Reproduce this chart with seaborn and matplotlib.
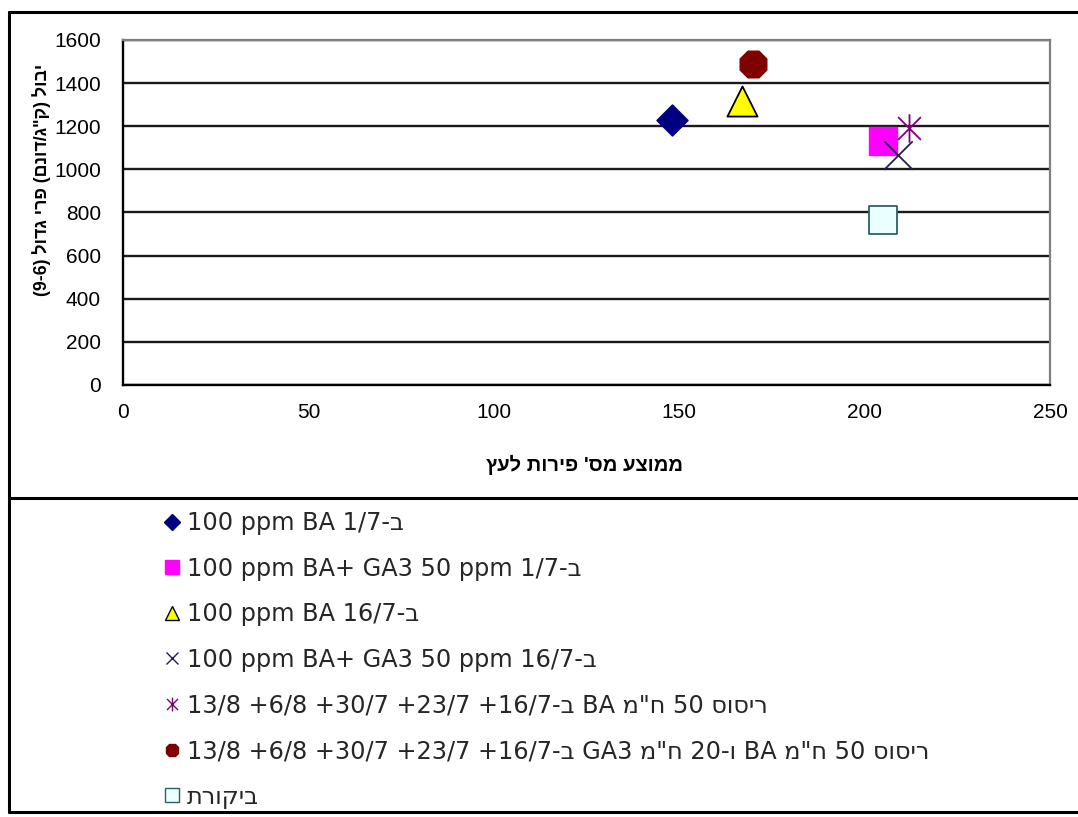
import matplotlib
matplotlib.use("Agg")
import matplotlib.pyplot as plt
from matplotlib.lines import Line2D
from matplotlib.path import Path
import seaborn as sns
import pandas as pd

# Treatments (strings written in display order, left to right)
treatments = [
    "100 ppm BA 1/7-ב",
    "100 ppm BA+ GA3 50 ppm 1/7-ב",
    "100 ppm BA 16/7-ב",
    "100 ppm BA+ GA3 50 ppm 16/7-ב",
    "13/8 +6/8 +30/7 +23/7 +16/7-ב BA מ\"ח 50 סוסיר",
    "13/8 +6/8 +30/7 +23/7 +16/7-ב GA3 מ\"ח 20-ו BA מ\"ח 50 סוסיר",
    "תרוקיב",
]
avg_fruits_per_tree = [148, 205, 167, 209, 212, 170, 205]
large_fruit_yield = [1230, 1130, 1315, 1065, 1190, 1490, 765]

x_ticks = [0, 50, 100, 150, 200, 250]
y_ticks = [0, 200, 400, 600, 800, 1000, 1200, 1400, 1600]
x_label = "ץעל תוריפ 'סמ עצוממ"
y_label = "(9-6) לודג ירפ (םנוד/ג\"ק) לובי"

df = pd.DataFrame({
    "treatment": treatments,
    "fruits": avg_fruits_per_tree,
    "yield": large_fruit_yield,
})

sns.set_theme(style="white")
plt.rcParams["font.family"] = ["Liberation Sans", "DejaVu Sans"]

# six-armed asterisk: vertical stroke plus two diagonals
asterisk = Path(
    [(0, -1), (0, 1), (-0.8, -0.8), (0.8, 0.8), (-0.8, 0.8), (0.8, -0.8)],
    [Path.MOVETO, Path.LINETO, Path.MOVETO, Path.LINETO, Path.MOVETO, Path.LINETO],
)

styles = [
    dict(marker="D", fc="#000080", ec="#000080", s=250, lw=1.0, line=False),
    dict(marker="s", fc="#FF00FF", ec="#FF00FF", s=430, lw=1.0, line=False),
    dict(marker="^", fc="#FFFF00", ec="#000000", s=470, lw=1.3, line=False),
    dict(marker="x", fc="#202050", ec="#202050", s=420, lw=1.3, line=True),
    dict(marker=asterisk, fc="#800080", ec="#800080", s=420, lw=1.3, line=True),
    dict(marker="8", fc="#800000", ec="#800000", s=430, lw=1.0, line=False),
    dict(marker="s", fc="#EAFFFF", ec="#2F6060", s=420, lw=1.3, line=False),
]
legend_sizes = [8.5, 9.5, 9.5, 8.5, 10, 10, 9.5]

fig = plt.figure(figsize=(10.78, 8.17), dpi=100)
ax = fig.add_axes([0.1141, 0.5288, 0.860, 0.4223])

for i, st in enumerate(styles):
    sub = df.iloc[[i]]
    sns.scatterplot(data=sub, x="fruits", y="yield", ax=ax, legend=False, zorder=3,
                    marker=st["marker"], s=st["s"], linewidth=st["lw"],
                    color=st["fc"], edgecolor=st["ec"])

ax.set_xlim(0, 250)
ax.set_ylim(0, 1600)
ax.set_xticks(x_ticks)
ax.set_yticks(y_ticks)
ax.yaxis.grid(True, color="#1a1a1a", linewidth=1.7)
ax.xaxis.grid(False)
ax.set_axisbelow(True)
for side in ("left", "bottom"):
    ax.spines[side].set_color("#000000")
    ax.spines[side].set_linewidth(1.7)
for side in ("top", "right"):
    ax.spines[side].set_color("#7f7f7f")
    ax.spines[side].set_linewidth(1.6)
ax.tick_params(axis="both", direction="inout", length=10, width=1.4, color="#000000",
               labelsize=15, labelcolor="#000000")
ax.tick_params(axis="x", pad=8)
ax.tick_params(axis="y", pad=11)
ax.set_xlabel("")
ax.set_ylabel("")

fig.text(585 / 1078, 1 - 465 / 817, x_label, ha="center", va="center",
         fontsize=14.5, fontweight="bold", color="#000000")
fig.text(42 / 1078, 1 - 180 / 817, y_label, ha="center", va="center", rotation=90,
         fontsize=12.8, fontweight="bold", color="#000000")

# frame lines around the chart and the legend area
frame_kw = dict(color="#000000", linewidth=2.2, transform=fig.transFigure)
x0, y_top, y_sep, y_bot = 9 / 1078, 1 - 12 / 817, 1 - 498 / 817, 1 - 812 / 817
fig.add_artist(Line2D([x0, x0], [y_bot, y_top], **frame_kw))
fig.add_artist(Line2D([x0, 1], [y_top, y_top], **frame_kw))
fig.add_artist(Line2D([x0, 1], [y_sep, y_sep], **frame_kw))
fig.add_artist(Line2D([x0, 1], [y_bot, y_bot], **frame_kw))

handles = []
for st, ms in zip(styles, legend_sizes):
    handles.append(Line2D([], [], linestyle="none", marker=st["marker"], markersize=ms,
                          markerfacecolor=("none" if st["line"] else st["fc"]),
                          markeredgecolor=st["ec"], markeredgewidth=1.0))
fig.legend(handles, treatments, loc="upper left",
           bbox_to_anchor=(162 / 1078, 1 - 511 / 817), frameon=False,
           prop={"family": ["DejaVu Sans"], "size": 17.3},
           handlelength=0.8, handletextpad=0.25, labelspacing=0.9,
           borderpad=0, borderaxespad=0)

fig.savefig("out.png", dpi=100, facecolor="white")
